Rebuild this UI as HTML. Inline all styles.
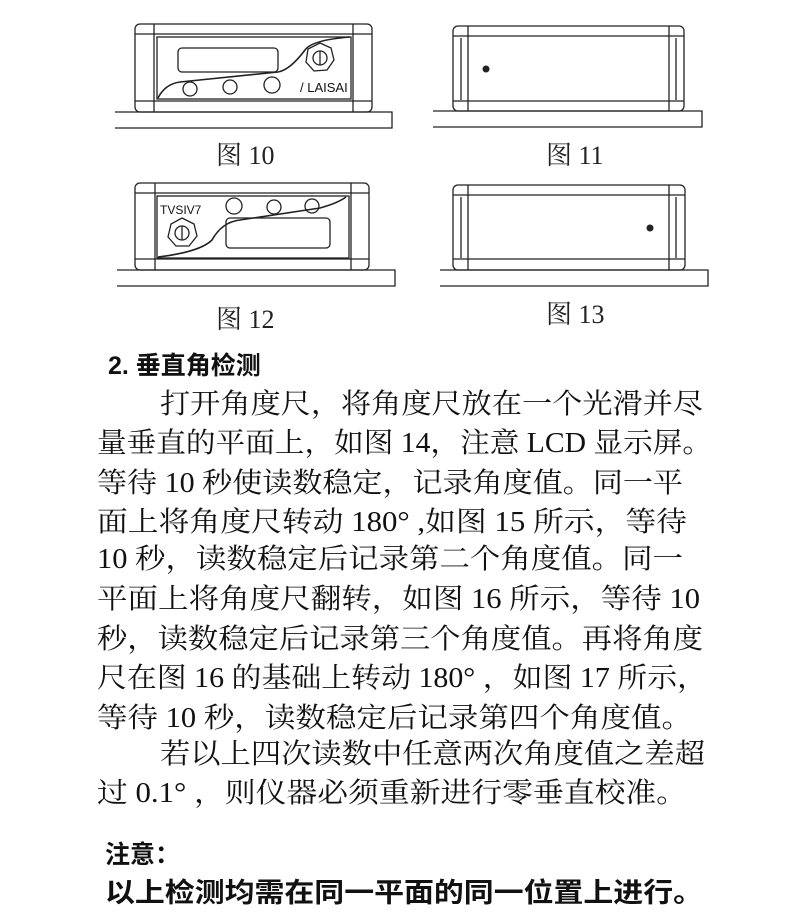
<!DOCTYPE html>
<html><head><meta charset="utf-8"><style>
html,body{margin:0;padding:0;background:#fff}
svg{display:block}
.t{font-family:"Liberation Serif","Noto Serif CJK SC",serif;font-size:28px;fill:#111}
.s{font-family:"Liberation Sans","Noto Sans CJK SC",sans-serif;fill:#111}
.l{font-family:"Liberation Serif","Noto Serif CJK SC",serif;font-size:26px;fill:#222}
</style></head><body>
<svg width="790" height="921" viewBox="0 0 790 921" xmlns="http://www.w3.org/2000/svg">
<g fill="none" stroke="#222" stroke-width="1.3">
<!-- Fig 10 -->
<path d="M115 112 H392 V128 H115"/>
<rect x="135" y="24" width="237" height="88" rx="5"/>
<line x1="135" y1="34" x2="372" y2="34"/><line x1="135" y1="101" x2="372" y2="101"/>
<line x1="154" y1="24" x2="154" y2="112"/><line x1="353" y1="24" x2="353" y2="112"/>
<rect x="157" y="37" width="194" height="62"/>
<rect x="178" y="48" width="100" height="24" rx="4"/>
<path d="M158 98 Q165 84 180 82 L278 72 Q290 70 305 50 Q312 40 350 37" stroke-width="1.6"/>
<polygon points="320,43 331,48 334,60 327,70 314,71 306,62 308,49"/>
<circle cx="320" cy="58" r="7"/><line x1="320" y1="51" x2="320" y2="65"/>
<circle cx="190" cy="89" r="7"/><circle cx="230" cy="87" r="7"/><circle cx="272" cy="85" r="8"/>
<!-- Fig 11 -->
<path d="M433 111 H702 V127 H433"/>
<rect x="453" y="26" width="231" height="85" rx="5"/>
<line x1="453" y1="36" x2="684" y2="36"/><line x1="453" y1="101" x2="684" y2="101"/>
<line x1="468" y1="26" x2="468" y2="111"/><line x1="669" y1="26" x2="669" y2="111"/>
<line x1="461" y1="38" x2="461" y2="100"/><line x1="676" y1="38" x2="676" y2="100"/>
<!-- Fig 12 -->
<path d="M117 270 H395 V286 H117"/>
<rect x="135" y="183" width="234" height="87" rx="5"/>
<line x1="135" y1="193" x2="369" y2="193"/><line x1="135" y1="259" x2="369" y2="259"/>
<line x1="155" y1="183" x2="155" y2="270"/><line x1="351" y1="183" x2="351" y2="270"/>
<rect x="157" y="196" width="192" height="62"/>
<rect x="226" y="218" width="104" height="30" rx="4"/>
<path d="M158 257 Q200 252 212 240 Q222 222 240 220 L320 208 Q338 203 346 197" stroke-width="1.6"/>
<polygon points="182,218 194,224 197,236 189,246 176,246 168,237 171,224"/>
<circle cx="182" cy="233" r="7"/><line x1="182" y1="226" x2="182" y2="240"/>
<circle cx="234" cy="206" r="8"/><circle cx="274" cy="207" r="7"/><circle cx="312" cy="206" r="7"/>
<!-- Fig 13 -->
<path d="M440 270 H708 V286 H440"/>
<rect x="453" y="185" width="232" height="85" rx="5"/>
<line x1="453" y1="195" x2="685" y2="195"/><line x1="453" y1="259" x2="685" y2="259"/>
<line x1="468" y1="185" x2="468" y2="270"/><line x1="669" y1="185" x2="669" y2="270"/>
<line x1="461" y1="197" x2="461" y2="258"/><line x1="676" y1="197" x2="676" y2="258"/>
</g>
<circle cx="486" cy="69" r="3.5" fill="#222"/>
<circle cx="650" cy="228" r="3.5" fill="#222"/>
<text x="300" y="92" class="s" font-size="13" fill="#333">/ LAISAI</text>
<text x="160" y="214" class="s" font-size="12" fill="#333">TVSIV7</text>
<text x="216" y="164" class="l">图 10</text>
<text x="546" y="164" class="l">图 11</text>
<text x="216" y="328" class="l">图 12</text>
<text x="546" y="323" class="l">图 13</text>
<text x="108" y="374" class="s" font-size="25" font-weight="bold">2. 垂直角检测</text>
<text class="t" x="160" y="413" textLength="543" lengthAdjust="spacingAndGlyphs">打开角度尺，将角度尺放在一个光滑并尽</text>
<text class="t" x="97" y="452" textLength="615" lengthAdjust="spacingAndGlyphs">量垂直的平面上，如图 14，注意 LCD 显示屏。</text>
<text class="t" x="97" y="492" textLength="586" lengthAdjust="spacingAndGlyphs">等待 10 秒使读数稳定，记录角度值。同一平</text>
<text class="t" x="97" y="531" textLength="590" lengthAdjust="spacingAndGlyphs">面上将角度尺转动 180° ,如图 15 所示，等待</text>
<text class="t" x="97" y="568" textLength="586" lengthAdjust="spacingAndGlyphs">10 秒，读数稳定后记录第二个角度值。同一</text>
<text class="t" x="97" y="608" textLength="603" lengthAdjust="spacingAndGlyphs">平面上将角度尺翻转，如图 16 所示，等待 10</text>
<text class="t" x="97" y="648" textLength="606" lengthAdjust="spacingAndGlyphs">秒，读数稳定后记录第三个角度值。再将角度</text>
<text class="t" x="97" y="687" textLength="610" lengthAdjust="spacingAndGlyphs">尺在图 16 的基础上转动 180° ，如图 17 所示，</text>
<text class="t" x="97" y="727" textLength="595" lengthAdjust="spacingAndGlyphs">等待 10 秒，读数稳定后记录第四个角度值。</text>
<text class="t" x="160" y="763" textLength="545" lengthAdjust="spacingAndGlyphs">若以上四次读数中任意两次角度值之差超</text>
<text class="t" x="97" y="802" textLength="590" lengthAdjust="spacingAndGlyphs">过 0.1° ，则仪器必须重新进行零垂直校准。</text>
<text x="105" y="863" class="s" font-size="25" font-weight="bold">注意：</text>
<text x="105" y="902" class="s" font-size="27" font-weight="bold" textLength="598" lengthAdjust="spacingAndGlyphs">以上检测均需在同一平面的同一位置上进行。</text>
</svg>
</body></html>
